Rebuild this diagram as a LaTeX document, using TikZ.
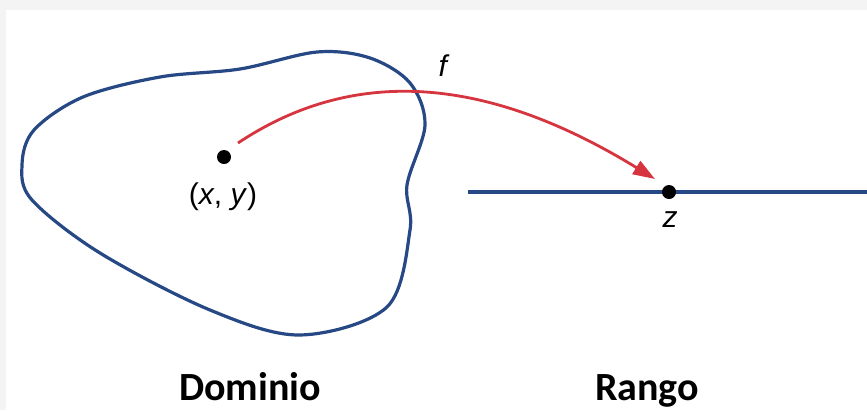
\documentclass[tikz,border=0pt]{standalone}
\usepackage{fontspec}
\setmainfont{Liberation Sans}
\newfontfamily\labfont{Carlito}
\usetikzlibrary{arrows.meta}
\definecolor{blobblue}{RGB}{38,72,132}
\definecolor{mapred}{RGB}{214,52,62}
\definecolor{edgegray}{RGB}{244,244,244}
\tikzset{
  outline/.style={draw=blobblue, line width=3.2pt},
  mapline/.style={draw=mapred, line width=2.8pt, -{Triangle[length=22pt,width=15pt]}},
  dotnode/.style={circle, fill=black, inner sep=0pt, minimum size=14pt},
  mathlab/.style={font=\fontsize{30}{34}\selectfont, inner sep=0pt},
  setlab/.style={font=\labfont\bfseries\fontsize{40}{44}\selectfont, inner sep=0pt, anchor=base}
}
\begin{document}
\begin{tikzpicture}[x=1pt,y=-1pt]
\useasboundingbox (0,0) rectangle (867,410);
\fill[edgegray] (0,0) rectangle (867,410);
\fill[white] (6,10) rectangle (867,410);
% domain blob
\draw[outline] plot[smooth cycle, tension=0.55] coordinates {
 (22,165) (34,130) (83,97) (160,77) (240,69) (317,52) (370,58)
 (410,83) (425,125) (407,185) (410,230) (387,307)
 (300,335) (210,310) (100,253) (32,200)};
% range line
\coordinate (lineL) at (468,192);
\coordinate (lineR) at (867,192);
\draw[outline] (lineL) -- (lineR);
% points
\node[dotnode] (p) at (224,157) {};
\node[dotnode] (z) at (669,192) {};
\node[mathlab] (plab) at (223,197) {(\textit{x}, \textit{y})};
\node[mathlab] (zlab) at (670,220) {\textit{z}};
\node[mathlab] (flab) at (444,66) {\textit{f}};
% mapping arrow
\coordinate (fstart) at (238,143);
\coordinate (fend) at (655,179);
\draw[mapline] (fstart) .. controls (370,55) and (510,90) .. (fend);
% labels
\node[setlab] (dom) at (250,400) {Dominio};
\node[setlab] (ran) at (647,400) {Rango};
\end{tikzpicture}
\end{document}
